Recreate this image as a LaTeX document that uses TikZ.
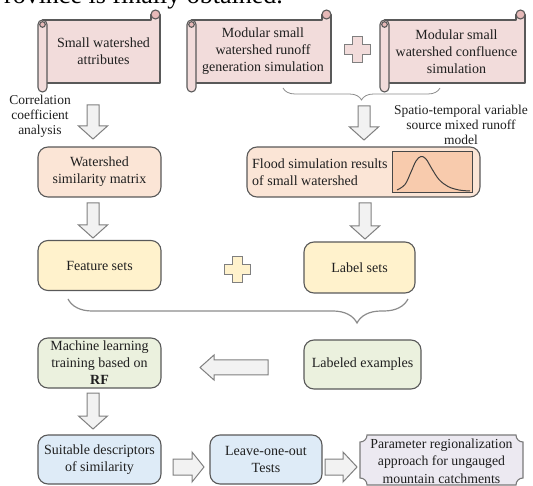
\documentclass[tikz,border=0pt]{standalone}
\usepackage{fontspec}
\setmainfont{Liberation Serif}
\usetikzlibrary{decorations.pathreplacing,calc}
\definecolor{bordc}{HTML}{595959}
\definecolor{scrollpink}{HTML}{F2DCDB}
\definecolor{curlpink}{HTML}{E6B9B8}
\definecolor{peach}{HTML}{FBE5D6}
\definecolor{yel}{HTML}{FFF2CC}
\definecolor{grn}{HTML}{EBF1DE}
\definecolor{blu}{HTML}{DEEBF7}
\definecolor{lav}{HTML}{ECE9F1}
\definecolor{arrfill}{HTML}{F2F2F2}
\definecolor{arrdraw}{HTML}{7F7F7F}
\definecolor{chartfill}{HTML}{F8CBAD}
\definecolor{txt}{HTML}{1F1F1F}
\definecolor{bracec}{HTML}{8C8C8C}

\newcommand{\myscroll}[2]{% #1 left x, #2 right x
  \draw[scrollst] (#1+4.5,20) -- (#2-9,20) -- (#2-9,14.5) -- (#2,14.5) -- (#2,83) -- (#1+4.5,83) -- cycle;
  \draw[scrollst, fill=curlpink] (#2-4.5,14.5) circle[radius=4.5];
  \draw[scrollst, rounded corners=4.5pt] (#1,20) rectangle (#1+9,92);
  \draw[scrollst, fill=curlpink] (#1+4.5,24.5) circle[radius=2.8];
}
\newcommand{\darrowshape}[3]{% cx, top y, tip y
  \draw[arrst] (#1-6,#2) -- (#1+6,#2) -- (#1+6,#3-13) -- (#1+14.5,#3-13) -- (#1,#3)
    -- (#1-14.5,#3-13) -- (#1-6,#3-13) -- cycle;
}
\newcommand{\harrowshape}[6]{% tail x, neck x, tip x, cy, shaft half, head half
  \draw[arrst] (#1,#4-#5) -- (#2,#4-#5) -- (#2,#4-#6) -- (#3,#4) -- (#2,#4+#6)
    -- (#2,#4+#5) -- (#1,#4+#5) -- cycle;
}
\newcommand{\plusmark}[3]{% cx, cy, fill
  \draw[plusst, fill=#3] (#1-5,#2-13) -- (#1+5,#2-13) -- (#1+5,#2-5) -- (#1+13,#2-5)
    -- (#1+13,#2+5) -- (#1+5,#2+5) -- (#1+5,#2+13) -- (#1-5,#2+13) -- (#1-5,#2+5)
    -- (#1-13,#2+5) -- (#1-13,#2-5) -- (#1-5,#2-5) -- cycle;
}

\begin{document}
\begin{tikzpicture}[x=1pt,y=-1pt,
  scrollst/.style={draw=bordc, line width=1.1pt, fill=scrollpink, line join=round},
  boxst/.style={draw=bordc, line width=1.1pt, rounded corners=10pt, align=center,
    font=\fontsize{14}{17}\selectfont, text=txt, inner sep=0pt},
  txtst/.style={align=center, font=\fontsize{14}{17}\selectfont, text=txt, inner sep=0pt},
  lblst/.style={align=center, font=\fontsize{13.5}{15}\selectfont, text=txt, inner sep=0pt},
  arrst/.style={draw=arrdraw, fill=arrfill, line width=1pt, line join=miter},
  plusst/.style={draw=arrdraw, line width=1pt},
  brst/.style={draw=bracec, line width=1pt, decorate},
]
\useasboundingbox (0,0) rectangle (533,486);
\clip (0,0) rectangle (533,486);

% header fragment
\node[anchor=base east, font=\fontsize{26}{30}\selectfont, inner sep=0pt, text=black] (hdr) at (283,3.5) {rovince is finally obtained.};

% scrolls
\myscroll{38}{160}
\node[txtst] (s1) at (103.5,51.5) {Small watershed\\attributes};
\myscroll{187}{331}
\node[txtst] (s2) at (263,51.5) {Modular small\\watershed runoff\\generation simulation};
\myscroll{380}{525}
\node[txtst] (s3) at (456.5,51.5) {Modular small\\watershed confluence\\simulation};
\plusmark{357}{50}{scrollpink}

% brace under scrolls 2-3
\draw[brst, line width=0.8pt, decoration={brace, mirror, amplitude=12pt}] (283,88) -- (440,88);
\node[lblst] (stv) at (461,125) {Spatio-temporal variable\\source mixed runoff\\model};
\node[lblst] (corr) at (40,116) {Correlation\\coefficient\\analysis};

% middle boxes
\node[boxst, fill=peach, minimum width=123pt, minimum height=50pt] (wsm) at (99.5,172) {Watershed\\similarity matrix};
\node[boxst, fill=peach, minimum width=233pt, minimum height=50pt] (flood) at (363.5,172) {};
\node[anchor=west, align=left, font=\fontsize{14}{17}\selectfont, text=txt, inner sep=0pt] (floodtxt) at (252,172.5) {Flood simulation results\\of small watershed};
\node[draw=bordc!80!black, fill=chartfill, line width=1pt, minimum width=80pt, minimum height=41pt, inner sep=0pt] (chart) at (432,172.5) {};
\draw[draw=bordc!70!black, line width=1pt] plot[smooth, tension=0.6] coordinates {(397,190) (405,184.5) (411,172) (416,161) (421,156.5) (426,159) (432,169) (439,179.5) (448,186.5) (459,190) (470,191)};

\node[boxst, fill=yel, minimum width=123pt, minimum height=50pt] (feat) at (99.5,265.5) {Feature sets};
\node[boxst, fill=yel, minimum width=111pt, minimum height=51pt] (lab) at (359.5,267.5) {Label sets};
\plusmark{237}{269.5}{yel}

% lower brace
\draw[brst, line width=1.2pt, decoration={brace, mirror, amplitude=24pt, aspect=0.85}] (68,299) -- (408,299);

\node[boxst, fill=grn, minimum width=117pt, minimum height=49pt] (labex) at (362.5,364.5) {Labeled examples};
\node[boxst, fill=grn, minimum width=123pt, minimum height=50pt] (ml) at (99.5,363) {Machine learning\\training based on\\\textbf{RF}};

\node[boxst, fill=blu, minimum width=123pt, minimum height=49pt] (suit) at (99.5,459.5) {Suitable descriptors\\of similarity};
\node[boxst, fill=blu, minimum width=112pt, minimum height=49pt] (loo) at (266,459.5) {Leave-one-out\\Tests};

% plaque
\draw[draw=bordc!80, line width=1.1pt, fill=lav]
  (367,435) -- (516,435) .. controls (516,439) and (519,442) .. (523,442)
  -- (523,478) .. controls (519,478) and (516,481) .. (516,485)
  -- (367,485) .. controls (367,481) and (364,478) .. (360,478)
  -- (360,442) .. controls (364,442) and (367,439) .. (367,435) -- cycle;
\node[txtst, font=\fontsize{13.8}{17.5}\selectfont] (param) at (441.5,461) {Parameter regionalization\\approach for ungauged\\mountain catchments};

% block arrows
\darrowshape{93}{105}{139}
\darrowshape{364}{106}{140}
\darrowshape{93}{203}{238}
\darrowshape{365}{203}{239}
\darrowshape{93}{393}{429}
\harrowshape{268}{214}{200}{367.5}{7.5}{12.5}
\harrowshape{173}{192}{204}{467}{8}{15}
\harrowshape{325}{343}{357}{467}{8}{15}
\end{tikzpicture}
\end{document}
